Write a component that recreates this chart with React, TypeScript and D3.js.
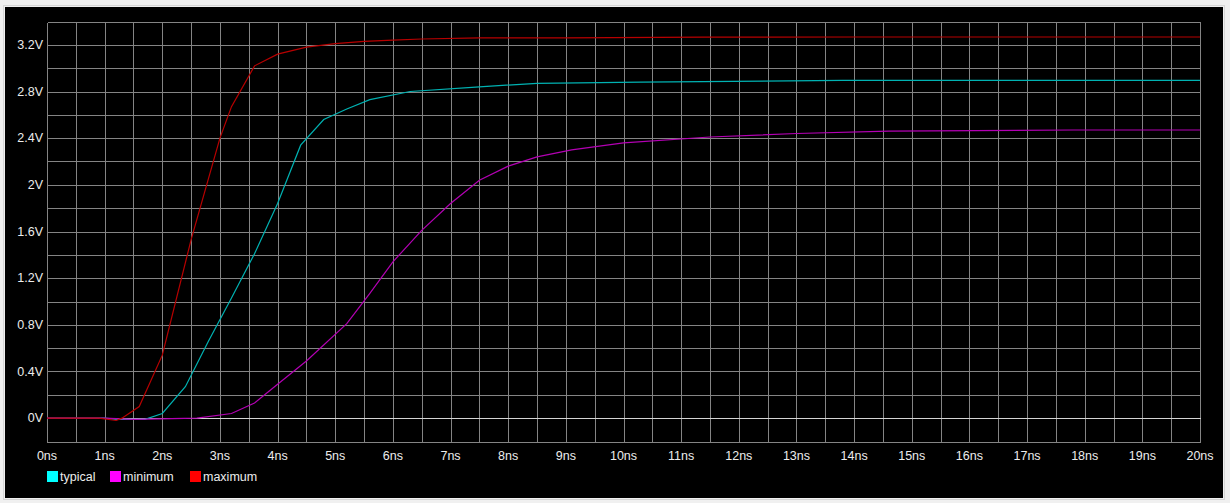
import React from 'react';
import * as d3 from 'd3';

// waveform samples (time in ns, voltage in V)
const typicalT = [0, 1.0, 1.2, 1.7, 2.0, 2.4, 2.8, 3.2, 3.6, 4.0, 4.4, 4.8, 5.2, 5.6, 6.3, 7.5, 8.5, 10.3, 13.8, 20];
const typicalV = [0, 0, -0.01, -0.01, 0.04, 0.27, 0.66, 1.03, 1.41, 1.84, 2.34, 2.56, 2.65, 2.73, 2.8, 2.84, 2.87, 2.88, 2.895, 2.895];

const minimumT = [0, 1.0, 1.5, 2.6, 3.2, 3.6, 4.0, 4.5, 5.2, 5.6, 6.0, 6.5, 7.0, 7.5, 8.0, 8.5, 9.1, 10.0, 11.5, 13.0, 14.6, 17.8, 20];
const minimumV = [0, 0, -0.01, 0, 0.04, 0.13, 0.29, 0.49, 0.81, 1.07, 1.34, 1.61, 1.84, 2.04, 2.16, 2.24, 2.3, 2.36, 2.41, 2.44, 2.46, 2.47, 2.47];

const maximumT = [0, 0.9, 1.2, 1.3, 1.6, 2.0, 2.5, 3.0, 3.2, 3.6, 4.0, 4.5, 5.0, 5.5, 6.0, 6.5, 7.5, 9.0, 11.4, 14.0, 20];
const maximumV = [0, 0, -0.02, 0, 0.1, 0.54, 1.53, 2.4, 2.67, 3.02, 3.12, 3.18, 3.21, 3.23, 3.24, 3.25, 3.26, 3.26, 3.266, 3.267, 3.267];

const xTicks = d3.range(0, 21, 1);
const yTicks = [0, 0.4, 0.8, 1.2, 1.6, 2, 2.4, 2.8, 3.2];
const xGrid = d3.range(0, 20.01, 0.5);
const yGrid = d3.range(-0.2, 3.41, 0.2);

const seriesNames = ['typical', 'minimum', 'maximum'];
const lineColors = ['#00b2b2', '#b400b4', '#b80000'];
const swatchColors = ['#00ffff', '#ff00ff', '#ff0000'];
const legendX = [47, 110, 190];

const W = 1230;
const H = 503;
const FONT = '"Liberation Sans", Arial, sans-serif';

const fmtV = (v: number) => `${+v.toFixed(1)}V`;

export default function App() {
  const x = d3.scaleLinear().domain([0, 20]).range([47, 1200]);
  const y = d3.scaleLinear().domain([-0.2, 3.4]).range([441.5, 21.5]);

  const line = d3
    .line<[number, number]>()
    .x(d => x(d[0]))
    .y(d => y(d[1]));

  const series = [
    d3.zip(typicalT, typicalV) as [number, number][],
    d3.zip(minimumT, minimumV) as [number, number][],
    d3.zip(maximumT, maximumV) as [number, number][],
  ];

  const snap = (v: number) => Math.round(v) + 0.5;

  return (
    <svg
      width={W}
      height={H}
      style={{ position: 'absolute', left: 0, top: 0, display: 'block' }}
      fontFamily={FONT}
    >
      <rect x={0} y={0} width={W} height={H} fill="#f0f0f0" />
      <rect x={3.5} y={5.5} width={1221} height={494} fill="none" stroke="#d6d6d6" />
      <rect x={5} y={7} width={1218} height={491} fill="#000" />

      <g shapeRendering="crispEdges" stroke="#848484" strokeWidth={1}>
        {xGrid.map((t, i) => (
          <line key={'gx' + i} x1={snap(x(t))} x2={snap(x(t))} y1={snap(y(3.4))} y2={snap(y(-0.2))} />
        ))}
        {yGrid.map((v, i) => (
          <line key={'gy' + i} x1={snap(x(0))} x2={snap(x(20))} y1={snap(y(v))} y2={snap(y(v))} />
        ))}
      </g>
      <line
        x1={snap(x(0))}
        x2={snap(x(20))}
        y1={snap(y(0))}
        y2={snap(y(0))}
        stroke="#d4d4d4"
        shapeRendering="crispEdges"
      />

      {series.map((d, i) => (
        <path key={seriesNames[i]} d={line(d) || ''} fill="none" stroke={lineColors[i]} strokeWidth={1.2} />
      ))}

      <g fill="#ececec" fontSize={12.5}>
        {yTicks.map(v => (
          <text key={'yt' + v} x={43} y={y(v) + 1} textAnchor="end" dominantBaseline="middle">
            {fmtV(v)}
          </text>
        ))}
        {xTicks.map(t => (
          <text key={'xt' + t} x={x(t)} y={460} textAnchor="middle">
            {`${t}ns`}
          </text>
        ))}
      </g>

      <g fontSize={12.5}>
        {seriesNames.map((name, i) => (
          <g key={'lg' + name} transform={`translate(${legendX[i]},471)`}>
            <rect x={0} y={0} width={11} height={11} fill={swatchColors[i]} />
            <text x={13} y={10} fill="#ececec">
              {name}
            </text>
          </g>
        ))}
      </g>
    </svg>
  );
}
